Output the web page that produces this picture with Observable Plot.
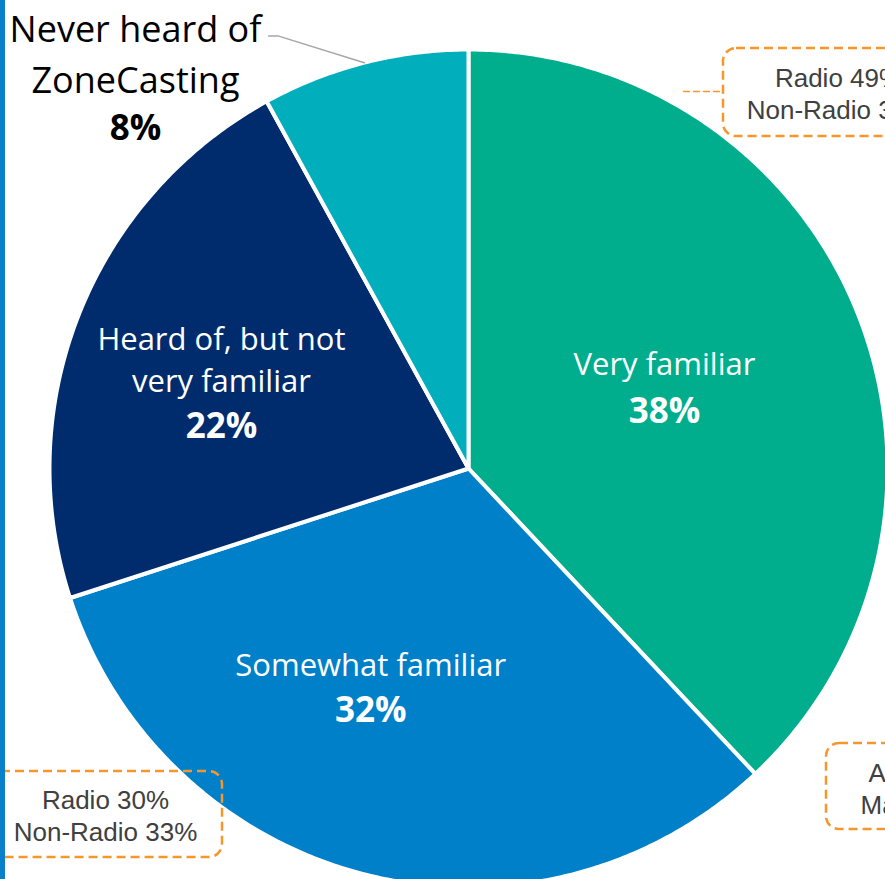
<!DOCTYPE html>
<html><head><meta charset="utf-8">
<script src="https://cdn.jsdelivr.net/npm/d3@7"></script>
<script src="https://cdn.jsdelivr.net/npm/@observablehq/plot@0.6"></script>
<style>
body{margin:0;background:#fff;}
#wrap{position:relative;width:885px;height:879px;overflow:hidden;background:#fff;}
#bar{position:absolute;left:0;top:0;width:5px;height:879px;background:#0A80CA;}
svg{overflow:hidden;}
</style></head><body><div id="wrap"><div id="chart"></div><div id="bar"></div></div>
<script>
// ---- data ----
const categories = ["Very familiar", "Somewhat familiar", "Heard of, but not\nvery familiar", "Never heard of\nZoneCasting"];
const values = [38, 32, 22, 8];
const colors = ["#00AE8D", "#0080C9", "#002C6E", "#00AEBC"];
const calloutTexts = ["Radio 49%\nNon-Radio 34%", "Radio 30%\nNon-Radio 33%", "Agency 36%\nMarketer 41%"];

// ---- layout ----
const W = 885, H = 879;
const CX = 468, CY = 468, R = 419;
const labelNudge = [5.4, 7.6, -12, -30];
const labelRadius = [0.487, 0.623, 0.598, 1.136];
const nameGap = [49.7, 47.7, 68.7, 77];
const callBoxes = [
  {x1: 723, x2: 953, y1: 48, y2: 136, tx: 838, ty: 92},
  {x1: -12, x2: 222, y1: 771, y2: 857, tx: 105, ty: 814},
  {x1: 826, x2: 1056, y1: 743, y2: 829, tx: 941, ty: 787}
];

const rad = d => d * Math.PI / 180;
const polar = (angDeg, r) => ({x: CX + r * Math.sin(rad(angDeg)), y: CY - r * Math.cos(rad(angDeg))});

const pie = d3.pie().sort(null).value(d => d)(values);
const slices = pie.map((p, i) => {
  const a0 = p.startAngle * 180 / Math.PI, a1 = p.endAngle * 180 / Math.PI;
  const pts = [{x: CX, y: CY}];
  const n = Math.max(2, Math.ceil((a1 - a0) / 0.5));
  for (let k = 0; k <= n; k++) pts.push(polar(a0 + (a1 - a0) * k / n, R));
  pts.push({x: CX, y: CY});
  const mid = (a0 + a1) / 2;
  return {pts, mid, i};
});

const labels = slices.map(s => {
  const p = polar(s.mid + labelNudge[s.i], R * labelRadius[s.i]);
  return {
    name: categories[s.i],
    pct: values[s.i] + "%",
    x: p.x, y: p.y, ny: p.y - nameGap[s.i],
    inside: s.i < 3
  };
});
const inside = labels.filter(d => d.inside);
const outside = labels.filter(d => !d.inside);

const sNever = slices[3];
const lEnd = polar(sNever.mid, R);
const lElbow = polar(336.3, R * 1.127);
const leader = [{x: lElbow.x - 10, y: lElbow.y}, lElbow, lEnd];

const callouts = callBoxes.map((b, i) => ({...b, text: calloutTexts[i]}));
const callLeader = [{x: 683, y: 91}, {x: callBoxes[0].x1, y: 91}];

const LABEL_FONT = "'Open Sans', Lato, sans-serif";

const plot = Plot.plot({
  width: W, height: H,
  margin: 0,
  x: {domain: [0, W], range: [0, W], axis: null},
  y: {domain: [0, H], range: [0, H], axis: null},
  style: {background: "white", overflow: "hidden"},
  marks: [
    ...slices.map(s => Plot.line(s.pts, {x: "x", y: "y", fill: colors[s.i], stroke: "white", strokeWidth: 4, strokeLinejoin: "round", curve: "linear"})),
    Plot.text(inside, {x: "x", y: "ny", text: "name", fill: "white", fontSize: 31, lineHeight: 1.355, fontFamily: LABEL_FONT, textAnchor: "middle", lineAnchor: "middle"}),
    Plot.text(inside, {x: "x", y: "y", text: "pct", fill: "white", fontSize: 35, fontWeight: "bold", fontFamily: LABEL_FONT, textAnchor: "middle", lineAnchor: "middle"}),
    Plot.text(outside, {x: "x", y: "ny", text: "name", fill: "black", fontSize: 36, lineHeight: 1.417, fontFamily: LABEL_FONT, textAnchor: "middle", lineAnchor: "middle"}),
    Plot.text(outside, {x: "x", y: "y", text: "pct", fill: "black", fontSize: 35, fontWeight: "bold", fontFamily: LABEL_FONT, textAnchor: "middle", lineAnchor: "middle"}),
    Plot.line(leader, {x: "x", y: "y", stroke: "#A6A6A6", strokeWidth: 1.5}),
    Plot.rect(callouts, {x1: "x1", x2: "x2", y1: "y1", y2: "y2", rx: 13, fill: "none", stroke: "#F7962B", strokeWidth: 2.5, strokeDasharray: "9,5"}),
    Plot.line(callLeader, {x: "x", y: "y", stroke: "#F7962B", strokeWidth: 1.4, strokeDasharray: "6,4"}),
    Plot.text(callouts, {x: "tx", y: "ty", text: "text", fill: "#404040", fontSize: 26, lineHeight: 1.24, fontFamily: "'Liberation Sans', Arial, sans-serif", textAnchor: "middle", lineAnchor: "middle"})
  ]
});
document.getElementById("chart").appendChild(plot);
</script></body></html>
